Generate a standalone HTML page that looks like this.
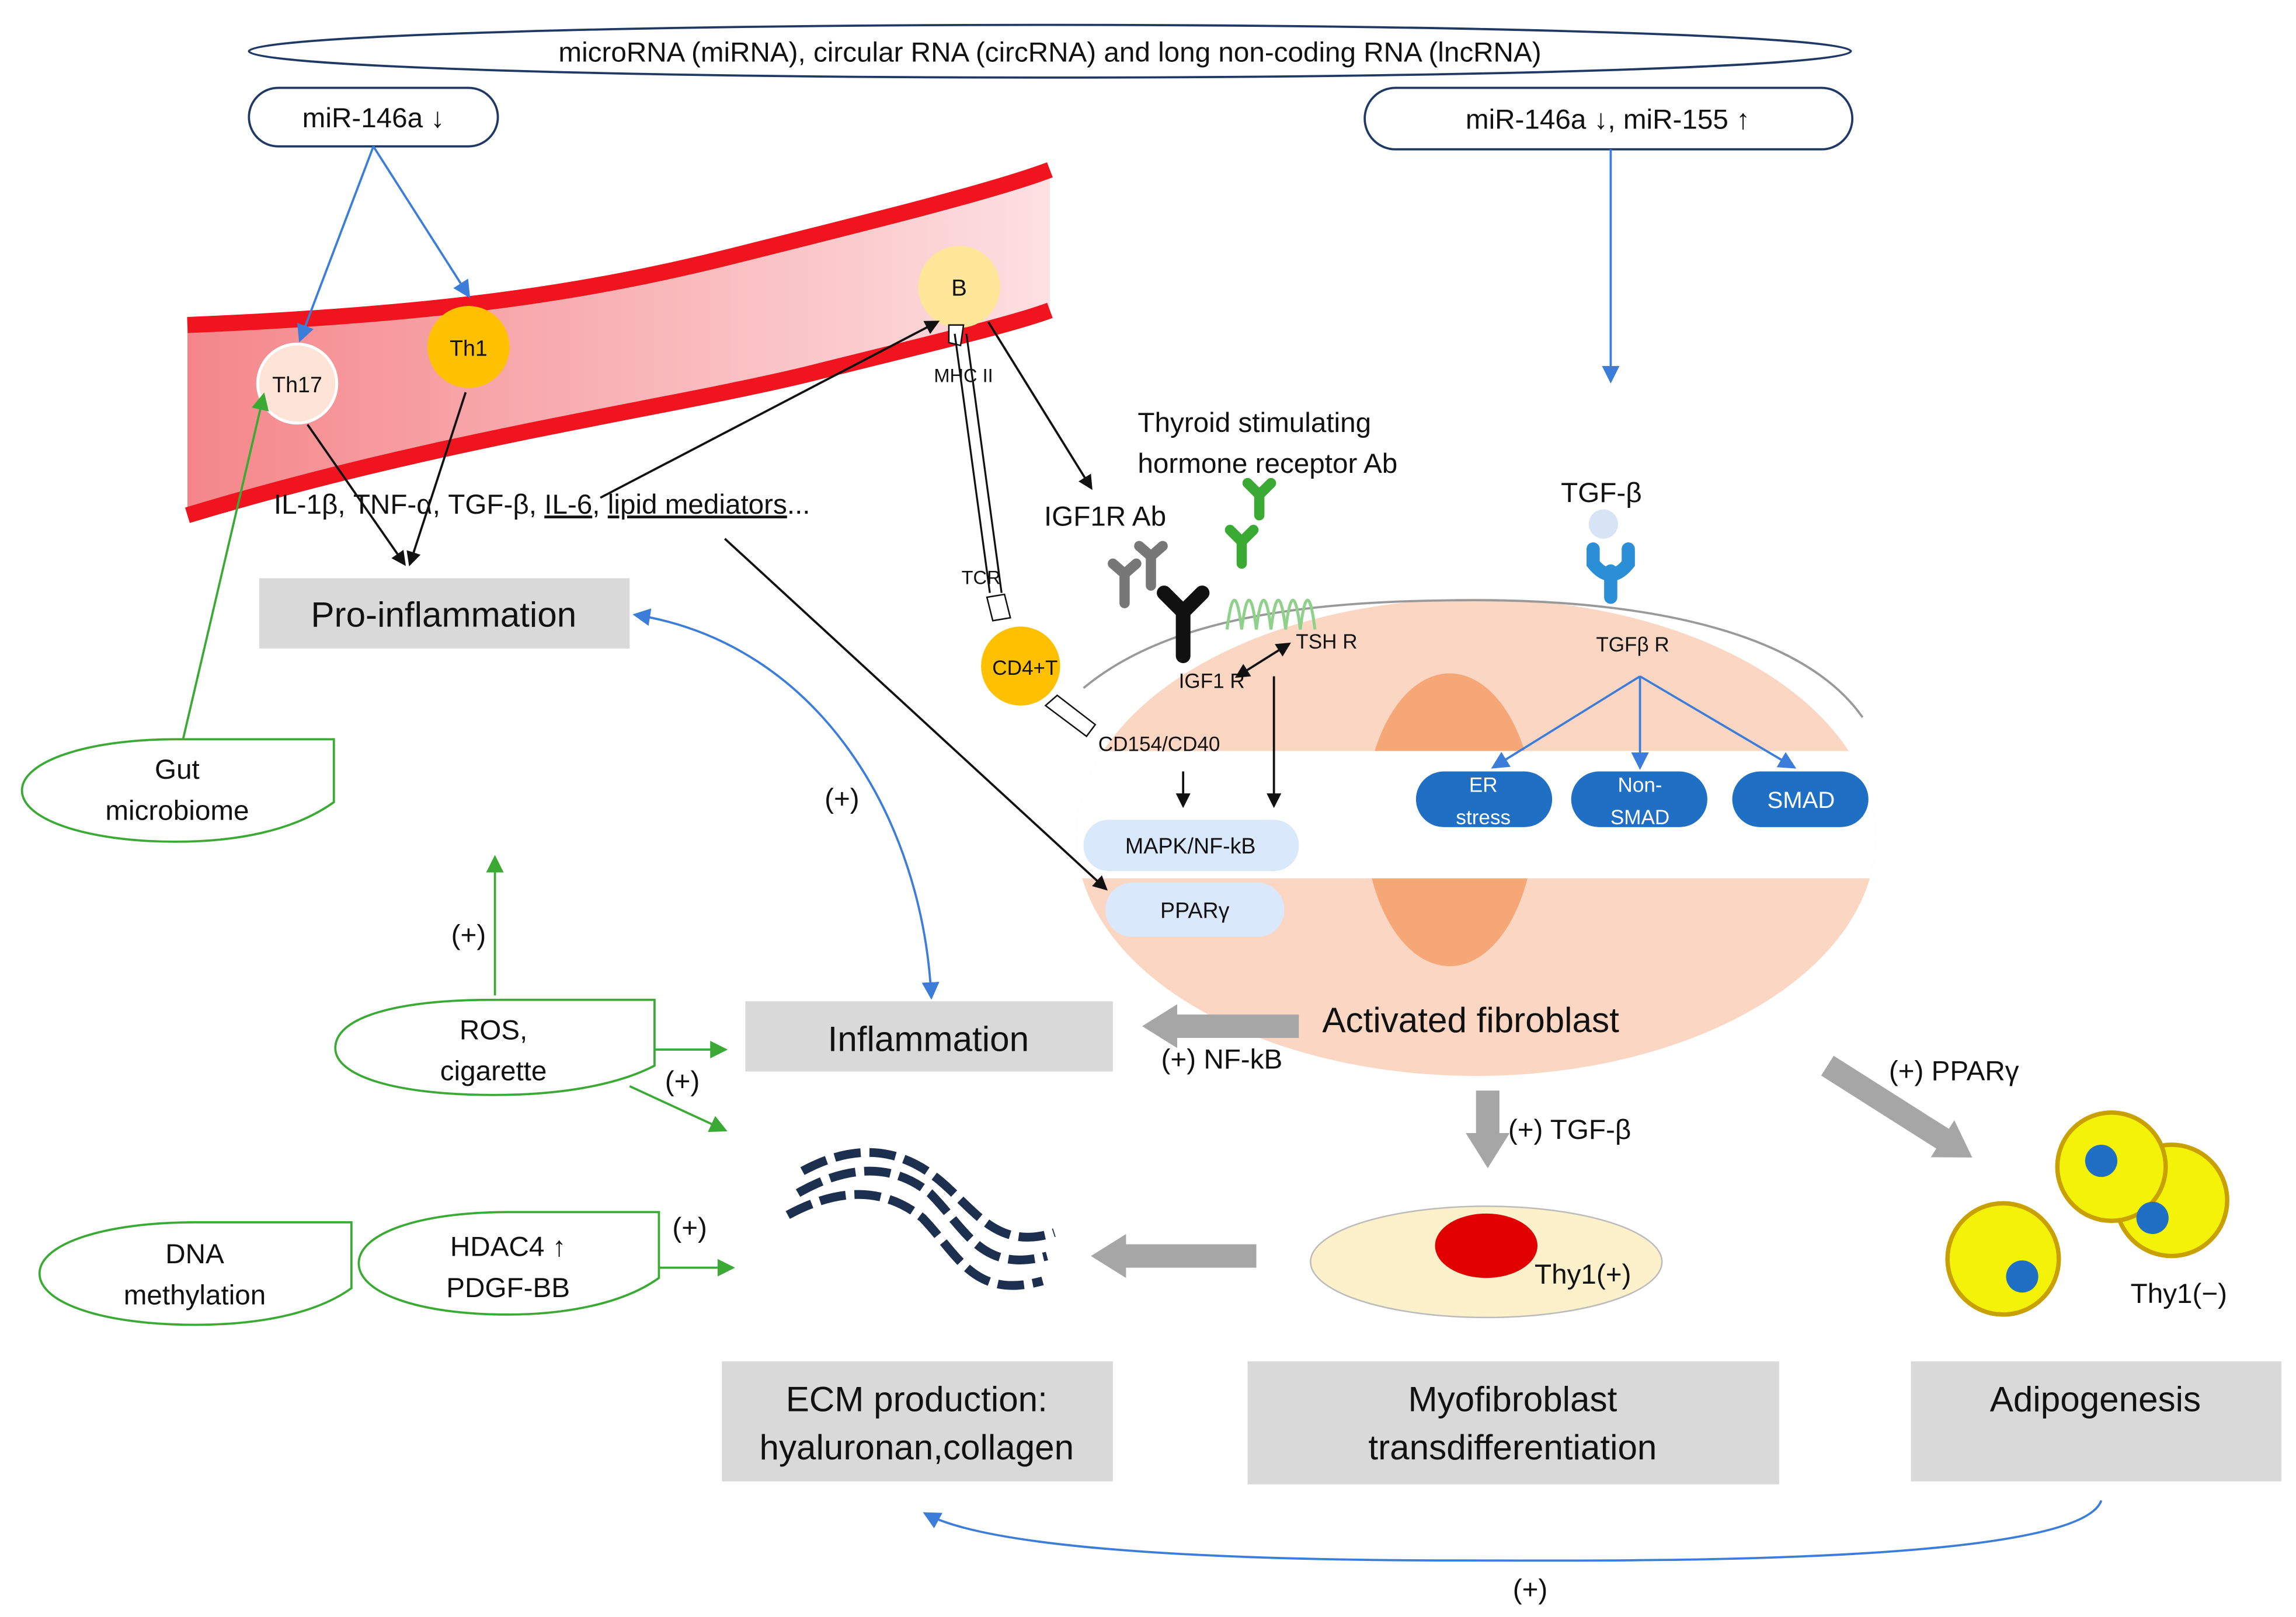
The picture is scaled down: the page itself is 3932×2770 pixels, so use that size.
<!DOCTYPE html>
<html><head><meta charset="utf-8"><style>html,body{margin:0;padding:0;background:#fff}svg{display:block}text{font-family:"Liberation Sans",sans-serif;fill:#111}</style></head><body>
<svg width="3932" height="2770" viewBox="0 0 1568 1104.6" xmlns="http://www.w3.org/2000/svg">
<defs>
<marker id="ab" markerWidth="10" markerHeight="10" refX="8" refY="5" orient="auto-start-reverse" markerUnits="userSpaceOnUse"><path d="M0,0 L10,5 L0,10 z" fill="#111"/></marker>
<marker id="ablue" markerWidth="12" markerHeight="12" refX="10" refY="6" orient="auto-start-reverse" markerUnits="userSpaceOnUse"><path d="M0,0 L12,6 L0,12 z" fill="#3b7dd8"/></marker>
<marker id="ag" markerWidth="12" markerHeight="12" refX="10" refY="6" orient="auto" markerUnits="userSpaceOnUse"><path d="M0,0 L12,6 L0,12 z" fill="#3aaa35"/></marker>
<marker id="agr" markerWidth="24" markerHeight="30" refX="4" refY="15" orient="auto" markerUnits="userSpaceOnUse"><path d="M0,0 L24,15 L0,30 z" fill="#a6a6a6"/></marker>
<linearGradient id="vg" x1="0" y1="0" x2="1" y2="0"><stop offset="0" stop-color="#f4868a"/><stop offset="1" stop-color="#fde0e2"/></linearGradient>
<clipPath id="cc"><ellipse cx="1008" cy="572" rx="273" ry="163"/></clipPath>
</defs>
<!-- fibroblast (drawn first) -->
<g clip-path="url(#cc)">
<rect x="700" y="400" width="600" height="340" fill="#fbd6c2"/>
<ellipse cx="990" cy="560" rx="58" ry="100" fill="#f6a777"/>
<rect x="700" y="513" width="600" height="87" fill="#fff"/>
</g>
<path d="M740,470 C800,420 900,410 1008,410 C1120,410 1230,430 1272,490" fill="none" stroke="#999" stroke-width="1.5"/>
<!-- top ellipse -->
<ellipse cx="717" cy="35" rx="547" ry="18" fill="#fff" stroke="#1f3864" stroke-width="1.5"/>
<text x="717" y="42" font-size="19" text-anchor="middle">microRNA (miRNA), circular RNA (circRNA) and long non-coding RNA (lncRNA)</text>
<rect x="170" y="60" width="170" height="40" rx="20" fill="#fff" stroke="#1f3864" stroke-width="1.5"/>
<text x="255" y="87" font-size="19" text-anchor="middle">miR-146a ↓</text>
<rect x="932" y="60" width="333" height="42" rx="21" fill="#fff" stroke="#1f3864" stroke-width="1.5"/>
<text x="1098" y="88" font-size="19" text-anchor="middle">miR-146a ↓, miR-155 ↑</text>
<line x1="1100" y1="102" x2="1100" y2="260" stroke="#3b7dd8" stroke-width="1.5" marker-end="url(#ablue)"/>
<!-- vessel -->
<path d="M128,222 C300,215 400,200 500,175 C600,150 680,130 717,116 L717,212 C690,222 630,236 550,256 C450,280 300,300 128,352 Z" fill="url(#vg)"/>
<path d="M128,222 C300,215 400,200 500,175 C600,150 680,130 717,116" fill="none" stroke="#f0141e" stroke-width="11"/>
<path d="M717,212 C690,222 630,236 550,256 C450,280 300,300 128,352" fill="none" stroke="#f0141e" stroke-width="11"/>
<line x1="255" y1="100" x2="205" y2="232" stroke="#3b7dd8" stroke-width="1.5" marker-end="url(#ablue)"/>
<line x1="255" y1="100" x2="320" y2="202" stroke="#3b7dd8" stroke-width="1.5" marker-end="url(#ablue)"/>
<circle cx="203" cy="262" r="27" fill="#fde4d6" stroke="#fff" stroke-width="2"/><text x="203" y="268" font-size="15" text-anchor="middle">Th17</text>
<circle cx="320" cy="237" r="28" fill="#ffc000"/><text x="320" y="243" font-size="15" text-anchor="middle">Th1</text>
<circle cx="655" cy="196" r="28" fill="#ffe699"/><text x="655" y="202" font-size="16" text-anchor="middle">B</text>
<path d="M648,222 l10,0 l-2,14 l-8,-2 z" fill="#fff" stroke="#111"/>
<text x="658" y="261" font-size="13" text-anchor="middle">MHC II</text>
<text x="187" y="351" font-size="19">IL-1β, TNF-α, TGF-β, <tspan text-decoration="underline">IL-6</tspan>, <tspan text-decoration="underline">lipid mediators</tspan>...</text>
<line x1="210" y1="290" x2="276" y2="385" stroke="#111" stroke-width="1.5" marker-end="url(#ab)"/>
<line x1="318" y1="268" x2="280" y2="385" stroke="#111" stroke-width="1.5" marker-end="url(#ab)"/>
<line x1="410" y1="340" x2="640" y2="220" stroke="#111" stroke-width="1.5" marker-end="url(#ab)"/>
<line x1="675" y1="220" x2="745" y2="333" stroke="#111" stroke-width="1.5" marker-end="url(#ab)"/>
<line x1="495" y1="368" x2="755" y2="607" stroke="#111" stroke-width="1.5" marker-end="url(#ab)"/>
<rect x="177" y="395" width="253" height="48" fill="#d9d9d9"/>
<text x="303" y="428" font-size="24" text-anchor="middle">Pro-inflammation</text>
<!-- gut -->
<path d="M15,540 C15,520 60,505 120,505 L228,505 L228,548 C200,568 160,575 120,575 C60,575 15,560 15,540 Z" fill="#fff" stroke="#3aaa35" stroke-width="1.5"/>
<text x="121" y="532" font-size="19" text-anchor="middle">Gut</text><text x="121" y="560" font-size="19" text-anchor="middle">microbiome</text>
<line x1="125" y1="505" x2="180" y2="270" stroke="#3aaa35" stroke-width="1.5" marker-end="url(#ag)"/>
<!-- TCR, CD4 -->
<line x1="652" y1="228" x2="676" y2="405" stroke="#111" stroke-width="1.3"/><line x1="660" y1="228" x2="684" y2="405" stroke="#111" stroke-width="1.3"/>
<text x="670" y="399" font-size="13" text-anchor="middle">TCR</text>
<path d="M674,408 l12,-2 l4,16 l-12,2 z" fill="#fff" stroke="#111"/>
<circle cx="697" cy="455" r="27" fill="#ffc000"/><text x="700" y="461" font-size="14" text-anchor="middle">CD4+T</text>
<path d="M714,482 l8,-7 l26,20 l-6,8 z" fill="#fff" stroke="#111"/>
<text x="750" y="513" font-size="14">CD154/CD40</text>
<text x="777" y="295" font-size="19">Thyroid stimulating</text><text x="777" y="323" font-size="19">hormone receptor Ab</text>
<text x="713" y="359" font-size="19">IGF1R Ab</text>
<text x="1066" y="343" font-size="19">TGF-β</text>
<!-- receptors -->
<g stroke="#777" stroke-width="7" fill="none" stroke-linecap="round"><path d="M768,412 l0,-20 M760,385 l8,7 l8,-7"/><path d="M786,400 l0,-20 M778,373 l8,7 l8,-7"/></g>
<path d="M808,448 l0,-30 M795,405 l13,13 l13,-13" stroke="#111" stroke-width="10" fill="none" stroke-linecap="round"/>
<g stroke="#3aaa35" stroke-width="7" fill="none" stroke-linecap="round"><path d="M848,385 l0,-15 M840,362 l8,8 l8,-8"/><path d="M860,352 l0,-15 M852,330 l8,8 l8,-8"/></g>
<path d="M838,430 q5,-40 10,0 q5,-40 10,0 q5,-40 10,0 q5,-40 10,0 q5,-40 10,0 q5,-40 10,0" fill="none" stroke="#8fd18a" stroke-width="2"/>
<text x="805" y="470" font-size="14">IGF1 R</text><text x="885" y="443" font-size="14">TSH R</text>
<line x1="845" y1="462" x2="880" y2="440" stroke="#111" stroke-width="1.5" marker-end="url(#ab)" marker-start="url(#ab)"/>
<circle cx="1095" cy="358" r="10" fill="#d6e4f5"/>
<path d="M1100,408 l0,-18 M1088,375 l0,10 q12,15 24,0 l0,-10" stroke="#2a8fd6" stroke-width="9" fill="none" stroke-linecap="round"/>
<text x="1090" y="445" font-size="14">TGFβ R</text>
<g stroke="#3b7dd8" stroke-width="1.5"><line x1="1120" y1="462" x2="1020" y2="524" marker-end="url(#ablue)"/><line x1="1120" y1="462" x2="1120" y2="524" marker-end="url(#ablue)"/><line x1="1120" y1="462" x2="1225" y2="524" marker-end="url(#ablue)"/></g>
<g fill="#1f6fc5"><rect x="967" y="527" width="93" height="38" rx="19"/><rect x="1073" y="527" width="93" height="38" rx="19"/><rect x="1183" y="527" width="93" height="38" rx="19"/></g>
<g font-size="14" text-anchor="middle"><text x="1013" y="541" style="fill:#fff">ER</text><text x="1013" y="563" style="fill:#fff">stress</text><text x="1120" y="541" style="fill:#fff">Non-</text><text x="1120" y="563" style="fill:#fff">SMAD</text><text x="1230" y="552" style="fill:#fff;font-size:16px">SMAD</text></g>
<line x1="808" y1="527" x2="808" y2="550" stroke="#111" stroke-width="1.5" marker-end="url(#ab)"/>
<line x1="870" y1="462" x2="870" y2="550" stroke="#111" stroke-width="1.5" marker-end="url(#ab)"/>
<rect x="740" y="560" width="147" height="35" rx="17" fill="#dae8fc"/><text x="813" y="583" font-size="15" text-anchor="middle">MAPK/NF-kB</text>
<rect x="755" y="603" width="122" height="37" rx="18" fill="#dae8fc"/><text x="816" y="627" font-size="15" text-anchor="middle">PPARγ</text>
<text x="903" y="705" font-size="24">Activated fibroblast</text>
<!-- pro-inflam <-> inflam -->
<path d="M434,420 C560,440 630,560 636,681" fill="none" stroke="#3b7dd8" stroke-width="1.5" marker-end="url(#ablue)" marker-start="url(#ablue)"/>
<text x="575" y="552" font-size="19" text-anchor="middle">(+)</text>
<rect x="509" y="684" width="251" height="48" fill="#d9d9d9"/>
<text x="634" y="718" font-size="24" text-anchor="middle">Inflammation</text>
<line x1="887" y1="701" x2="800" y2="701" stroke="#a6a6a6" stroke-width="16" marker-end="url(#agr)"/>
<text x="793" y="730" font-size="19">(+) NF-kB</text>
<!-- ROS -->
<path d="M229,716 C229,695 270,683 337,683 L447,683 L447,728 C420,742 380,748 337,748 C270,748 229,735 229,716 Z" fill="#fff" stroke="#3aaa35" stroke-width="1.5"/>
<text x="337" y="710" font-size="19" text-anchor="middle">ROS,</text><text x="337" y="738" font-size="19" text-anchor="middle">cigarette</text>
<line x1="447" y1="717" x2="495" y2="717" stroke="#3aaa35" stroke-width="1.5" marker-end="url(#ag)"/>
<line x1="430" y1="742" x2="495" y2="772" stroke="#3aaa35" stroke-width="1.5" marker-end="url(#ag)"/>
<line x1="338" y1="680" x2="338" y2="586" stroke="#3aaa35" stroke-width="1.5" marker-end="url(#ag)"/>
<text x="320" y="645" font-size="19" text-anchor="middle">(+)</text><text x="466" y="745" font-size="19" text-anchor="middle">(+)</text>
<path d="M27,870 C27,850 70,835 133,835 L240,835 L240,880 C215,898 175,905 133,905 C70,905 27,890 27,870 Z" fill="#fff" stroke="#3aaa35" stroke-width="1.5"/>
<text x="133" y="863" font-size="19" text-anchor="middle">DNA</text><text x="133" y="891" font-size="19" text-anchor="middle">methylation</text>
<path d="M245,863 C245,843 285,828 347,828 L450,828 L450,873 C425,891 385,898 347,898 C285,898 245,883 245,863 Z" fill="#fff" stroke="#3aaa35" stroke-width="1.5"/>
<text x="347" y="858" font-size="19" text-anchor="middle">HDAC4 ↑</text><text x="347" y="886" font-size="19" text-anchor="middle">PDGF-BB</text>
<line x1="450" y1="866" x2="500" y2="866" stroke="#3aaa35" stroke-width="1.5" marker-end="url(#ag)"/>
<text x="471" y="845" font-size="19" text-anchor="middle">(+)</text>
<!-- ECM squiggle -->
<g fill="none" stroke="#1c2f4f" stroke-width="6" stroke-dasharray="18,6">
<path d="M545,815 C580,795 610,795 635,815 C660,840 670,870 715,858"/>
<path d="M538,830 C575,810 605,812 630,832 C655,858 665,888 712,875"/>
<path d="M548,800 C585,780 615,785 640,805 C665,825 680,855 720,842"/>
</g>
<line x1="858" y1="858" x2="765" y2="858" stroke="#a6a6a6" stroke-width="16" marker-end="url(#agr)"/>
<!-- myofibroblast -->
<line x1="1016" y1="745" x2="1016" y2="778" stroke="#a6a6a6" stroke-width="16" marker-end="url(#agr)"/>
<text x="1030" y="778" font-size="19">(+) TGF-β</text>
<ellipse cx="1015" cy="862" rx="120" ry="38" fill="#fdf1cc" stroke="#bbb" stroke-width="1"/>
<ellipse cx="1015" cy="851" rx="35" ry="22" fill="#e00000"/>
<text x="1048" y="877" font-size="19">Thy1(+)</text>
<line x1="1248" y1="728" x2="1330" y2="780" stroke="#a6a6a6" stroke-width="16" marker-end="url(#agr)"/>
<text x="1290" y="738" font-size="19">(+) PPARγ</text>
<g fill="#f5f20a" stroke="#c8a000" stroke-width="3"><circle cx="1483" cy="820" r="38"/><circle cx="1442" cy="797" r="37"/><circle cx="1368" cy="860" r="38"/></g>
<g fill="#1f6fc5"><circle cx="1470" cy="832" r="11"/><circle cx="1435" cy="793" r="11"/><circle cx="1381" cy="872" r="11"/></g>
<text x="1455" y="890" font-size="19">Thy1(−)</text>
<!-- boxes -->
<rect x="493" y="930" width="267" height="82" fill="#d9d9d9"/>
<text x="626" y="964" font-size="24" text-anchor="middle">ECM production:</text><text x="626" y="997" font-size="24" text-anchor="middle">hyaluronan,collagen</text>
<rect x="852" y="930" width="363" height="84" fill="#d9d9d9"/>
<text x="1033" y="964" font-size="24" text-anchor="middle">Myofibroblast</text><text x="1033" y="997" font-size="24" text-anchor="middle">transdifferentiation</text>
<rect x="1305" y="930" width="253" height="82" fill="#d9d9d9"/>
<text x="1431" y="964" font-size="24" text-anchor="middle">Adipogenesis</text>
<path d="M1435,1025 C1420,1070 1100,1066 1000,1066 C850,1066 680,1060 632,1034" fill="none" stroke="#3b7dd8" stroke-width="1.5" marker-end="url(#ablue)"/>
<text x="1045" y="1092" font-size="19" text-anchor="middle">(+)</text>
</svg>
</body></html>
